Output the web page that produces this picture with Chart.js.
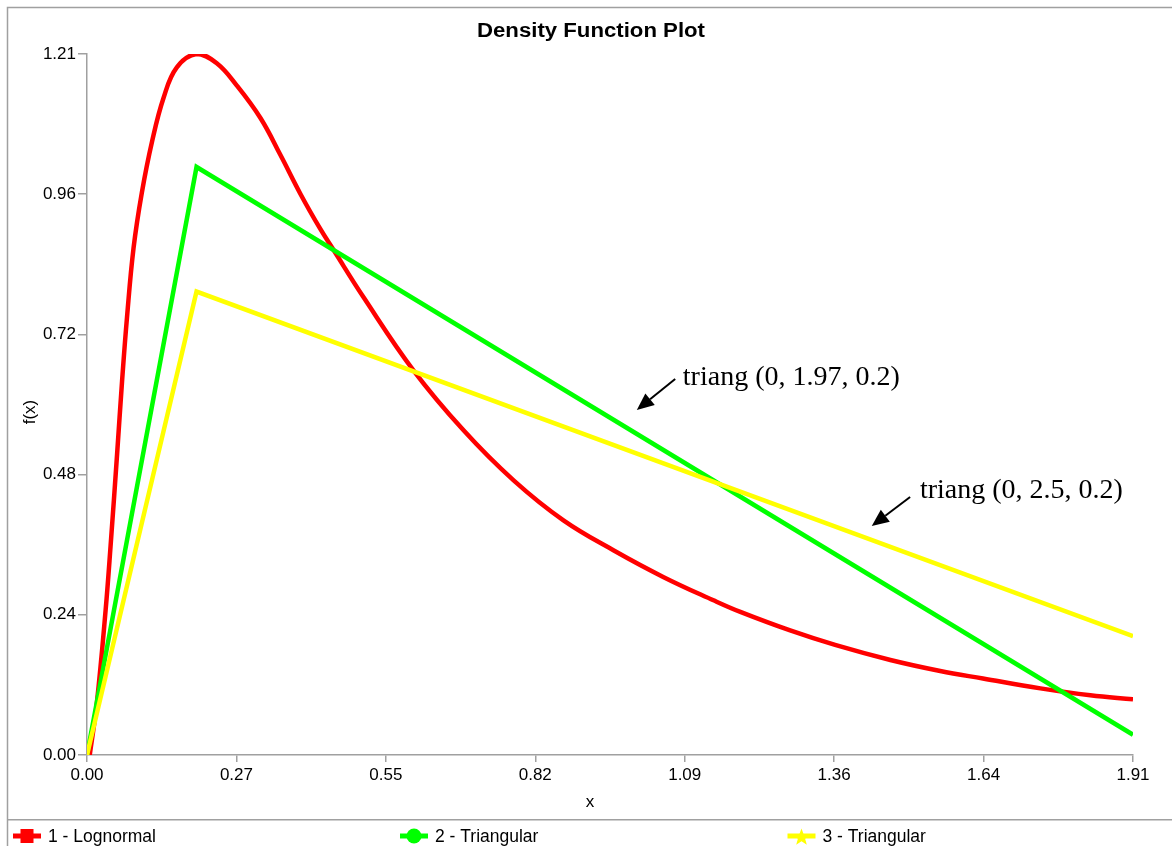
<!DOCTYPE html>
<html>
<head>
<meta charset="utf-8">
<script src="https://cdn.jsdelivr.net/npm/chart.js@4.4.1/dist/chart.umd.min.js"></script>
<style>
html,body{margin:0;padding:0;background:#fff;}
#c{display:block;}
</style>
</head>
<body>
<canvas id="c" width="1172" height="846"></canvas>
<script>
// ---- data ----
const seriesNames = ['1 - Lognormal', '2 - Triangular', '3 - Triangular'];
const seriesColors = ['#ff0000', '#00ff00', '#ffff00'];

const lognormX = [0.005,0.018,0.034,0.043,0.055,0.064,0.073,0.085,0.100,0.119,0.140,0.164,0.200,0.237,0.274,0.317,0.353,0.390,0.426,0.450,0.505,0.596,0.688,0.779,0.870,0.962,1.053,1.144,1.193,1.284,1.366,1.467,1.558,1.636,1.741,1.832,1.910];
const lognormY = [0.000,0.090,0.250,0.360,0.520,0.645,0.755,0.875,0.970,1.060,1.135,1.187,1.210,1.194,1.155,1.099,1.036,0.968,0.908,0.872,0.790,0.664,0.560,0.474,0.405,0.353,0.307,0.267,0.247,0.215,0.190,0.164,0.145,0.132,0.115,0.103,0.096];

const triang1X = [0, 0.2, 1.91];
const triang1Y = [0, 1.015, 0.035];

const triang2X = [0, 0.2, 1.91];
const triang2Y = [0, 0.800, 0.205];

const xTickLabels = ['0.00','0.27','0.55','0.82','1.09','1.36','1.64','1.91'];
const yTickLabels = ['0.00','0.24','0.48','0.72','0.96','1.21'];
const xMax = 1.91;
const yMax = 1.21;

const chartTitle = 'Density Function Plot';
const xTitle = 'x';
const yTitle = 'f(x)';

const annotTexts = ['triang (0, 1.97, 0.2)', 'triang (0, 2.5, 0.2)'];
const annotTextAt = [[1.088, 0.639], [1.521, 0.4436]];
const annotArrowFrom = [[1.074, 0.649], [1.503, 0.4454]];
const annotArrowTo = [[1.004, 0.5956], [1.433, 0.3953]];

// ---- build ----
function pts(xs, ys){ return xs.map((x,i)=>({x:x, y:ys[i]})); }

const GRAY = '#a0a0a0';
const SANS = '"Liberation Sans", Arial, sans-serif';
const SERIF = '"Liberation Serif", "Times New Roman", serif';

const decor = {
  id: 'decor',
  afterDraw(chart){
    const ctx = chart.ctx;
    const xs = chart.scales.x, ys = chart.scales.y;
    ctx.save();
    // frame
    ctx.strokeStyle = GRAY;
    ctx.lineWidth = 1.5;
    ctx.beginPath();
    ctx.moveTo(7.5, 846); ctx.lineTo(7.5, 7.5); ctx.lineTo(1172, 7.5);
    ctx.moveTo(7.5, 819.8); ctx.lineTo(1172, 819.8);
    ctx.stroke();

    // title (stretched)
    ctx.fillStyle = '#000';
    ctx.font = 'bold 20px ' + SANS;
    ctx.textBaseline = 'alphabetic';
    ctx.textAlign = 'left';
    const tw = ctx.measureText(chartTitle).width;
    ctx.save();
    ctx.translate(477, 36.7);
    ctx.scale(228 / tw, 1);
    ctx.fillText(chartTitle, 0, 0);
    ctx.restore();

    // axis titles
    ctx.font = '17px ' + SANS;
    ctx.textAlign = 'center';
    ctx.textBaseline = 'middle';
    ctx.fillText(xTitle, 590, 802);
    ctx.save();
    ctx.translate(30, 412);
    ctx.rotate(-Math.PI/2);
    ctx.fillText(yTitle, 0, 0);
    ctx.restore();

    // legend
    const lx = [13, 400, 787.5];
    const ly = 836;
    chart.data.datasets.forEach((ds, i) => {
      const x0 = lx[i];
      ctx.strokeStyle = ds.borderColor;
      ctx.fillStyle = ds.borderColor;
      ctx.lineWidth = 5;
      ctx.beginPath(); ctx.moveTo(x0, ly); ctx.lineTo(x0 + 28, ly); ctx.stroke();
      const cx = x0 + 14;
      if (i === 0) {
        ctx.fillRect(cx - 6.5, ly - 7, 13, 14);
      } else if (i === 1) {
        ctx.beginPath(); ctx.arc(cx, ly, 7.5, 0, Math.PI*2); ctx.fill();
      } else {
        ctx.beginPath();
        for (let k = 0; k < 10; k++) {
          const r = (k % 2 === 0) ? 9 : 3.8;
          const a = -Math.PI/2 + k * Math.PI/5;
          const px = cx + r*Math.cos(a), py = ly + 1.5 + r*Math.sin(a);
          if (k === 0) ctx.moveTo(px, py); else ctx.lineTo(px, py);
        }
        ctx.closePath(); ctx.fill();
      }
      ctx.fillStyle = '#000';
      ctx.font = '17.5px ' + SANS;
      ctx.textAlign = 'left';
      ctx.textBaseline = 'middle';
      ctx.fillText(ds.label, x0 + 35, ly + 1);
    });

    // annotations
    ctx.fillStyle = '#000';
    ctx.strokeStyle = '#000';
    ctx.font = '28px ' + SERIF;
    ctx.textAlign = 'left';
    ctx.textBaseline = 'alphabetic';
    annotTexts.forEach((t, i) => {
      ctx.fillText(t, xs.getPixelForValue(annotTextAt[i][0]), ys.getPixelForValue(annotTextAt[i][1]));
      const fx = xs.getPixelForValue(annotArrowFrom[i][0]), fy = ys.getPixelForValue(annotArrowFrom[i][1]);
      const tx = xs.getPixelForValue(annotArrowTo[i][0]), ty = ys.getPixelForValue(annotArrowTo[i][1]);
      const ang = Math.atan2(ty - fy, tx - fx);
      const hl = 17, hw = 7.5;
      const bx = tx - hl*Math.cos(ang), by = ty - hl*Math.sin(ang);
      ctx.lineWidth = 2;
      ctx.beginPath(); ctx.moveTo(fx, fy); ctx.lineTo(bx, by); ctx.stroke();
      ctx.beginPath();
      ctx.moveTo(tx, ty);
      ctx.lineTo(bx + hw*Math.sin(ang), by - hw*Math.cos(ang));
      ctx.lineTo(bx - hw*Math.sin(ang), by + hw*Math.cos(ang));
      ctx.closePath(); ctx.fill();
    });
    ctx.restore();
  }
};

const datasets = [
  {label: seriesNames[0], data: pts(lognormX, lognormY), borderColor: seriesColors[0], order: 3, tension: 0.4},
  {label: seriesNames[1], data: pts(triang1X, triang1Y), borderColor: seriesColors[1], order: 2, tension: 0},
  {label: seriesNames[2], data: pts(triang2X, triang2Y), borderColor: seriesColors[2], order: 1, tension: 0}
].map(d => Object.assign({borderWidth: 4.5, pointRadius: 0, fill: false, backgroundColor: d.borderColor, borderCapStyle: 'butt', borderJoinStyle: 'miter'}, d));

new Chart(document.getElementById('c'), {
  type: 'line',
  data: {datasets},
  options: {
    responsive: false,
    animation: false,
    events: [],
    layout: {padding: {left: 0, right: 39, top: 54, bottom: 0}},
    plugins: {legend: {display: false}, title: {display: false}, tooltip: {enabled: false}},
    scales: {
      x: {
        type: 'linear', min: 0, max: xMax,
        afterFit: s => { s.height = 91; },
        afterBuildTicks: s => { s.ticks = xTickLabels.map((_, i) => ({value: i * xMax / (xTickLabels.length - 1)})); },
        ticks: {callback: (v, i) => xTickLabels[i], autoSkip: false, maxRotation: 0, padding: 3, color: '#000', font: {family: SANS, size: 17}},
        grid: {drawOnChartArea: false, drawTicks: true, tickLength: 7, color: GRAY, lineWidth: 1.5},
        border: {display: true, color: GRAY, width: 1.5}
      },
      y: {
        type: 'linear', min: 0, max: yMax,
        afterFit: s => { s.width = 87; },
        afterBuildTicks: s => { s.ticks = yTickLabels.map((_, i) => ({value: i * yMax / (yTickLabels.length - 1)})); },
        ticks: {callback: (v, i) => yTickLabels[i], autoSkip: false, padding: 2, color: '#000', font: {family: SANS, size: 17}},
        grid: {drawOnChartArea: false, drawTicks: true, tickLength: 9, color: GRAY, lineWidth: 1.5},
        border: {display: true, color: GRAY, width: 1.5}
      }
    }
  },
  plugins: [decor]
});
</script>
</body>
</html>
